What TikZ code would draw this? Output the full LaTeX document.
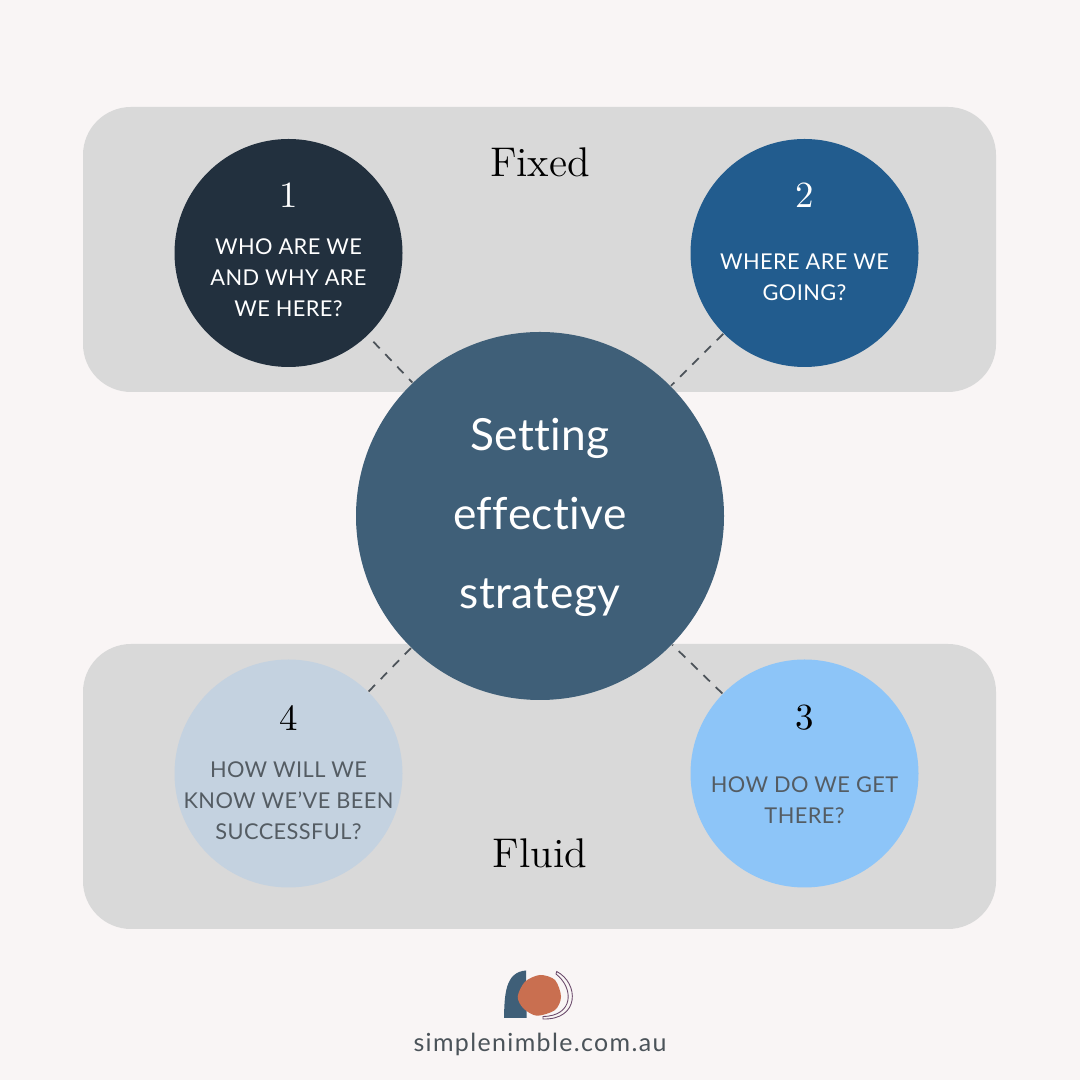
\documentclass[tikz,border=0pt]{standalone}
\usepackage{fontspec}
\newfontfamily\labelfont[LetterSpace=1.8,Ligatures=NoCommon]{Lato}
\newfontfamily\hubfont[LetterSpace=1,Ligatures=NoCommon]{Lato}
\newfontfamily\sitefont[LetterSpace=5.5,Ligatures=NoCommon]{Lato}
\usetikzlibrary{positioning}
\definecolor{paper}{HTML}{F9F5F5}
\definecolor{band}{HTML}{D9D9D9}
\definecolor{midnight}{HTML}{22303E}
\definecolor{deepblue}{HTML}{225C8E}
\definecolor{skyblue}{HTML}{8DC5F8}
\definecolor{mist}{HTML}{C4D2E0}
\definecolor{slate}{HTML}{3F5F78}
\definecolor{ink}{HTML}{545C63}
\definecolor{clay}{HTML}{C96F50}
\definecolor{plum}{HTML}{6B4A6B}
\tikzset{
  panel/.style={fill=band,rounded corners=4.8mm,minimum width=91.3mm,minimum height=28.5mm,inner sep=0pt},
  step circle/.style={circle,fill=#1,minimum size=22.8mm,inner sep=0pt},
  hub/.style={circle,fill=slate,minimum size=36.8mm,inner sep=0pt},
  hub label/.style={text=white,align=center,inner sep=0pt,
    font=\hubfont\fontsize{12.6}{22.5}\selectfont},
  number/.style={font=\fontsize{10.5}{12}\selectfont,inner sep=0pt},
  question/.style={font=\labelfont\fontsize{6.2}{8.85}\selectfont,align=center,inner sep=0pt},
  heading/.style={font=\fontsize{11.8}{14}\selectfont,inner sep=0pt},
  link/.style={draw=ink!90!black,line width=0.5pt,dash pattern=on 2.6pt off 2.3pt},
}
\begin{document}
\begin{tikzpicture}
  \useasboundingbox[fill=paper] (0,0) rectangle (10.8,10.8);
  \node[panel] (fixedpanel) at (5.395,8.305) {};
  \node[panel] (fluidpanel) at (5.395,2.935) {};
  \node[heading] (fixed) at (5.4,9.18) {Fixed};
  \node[heading] (fluid) at (5.4,2.27) {Fluid};
  \node[hub] (hub) at (5.4,5.64) {};
  \node[hub label] (hubtext) at (5.4,5.625) {Setting\\effective\\strategy};
  \foreach \n/\x/\y/\c/\k/\t/\ty in {
    1/2.885/8.27/midnight/white/{WHO ARE WE\\AND WHY ARE\\WE HERE?}/8.02,
    2/8.045/8.27/deepblue/white/{WHERE ARE WE\\GOING?}/8.03,
    3/8.045/3.065/skyblue/ink/{HOW DO WE GET\\THERE?}/2.8,
    4/2.885/3.065/mist/ink/{HOW WILL WE\\KNOW WE’VE BEEN\\SUCCESSFUL?}/2.79}{
    \node[step circle=\c] (c\n) at (\x,\y) {};
    \node[question,text=\k] (q\n) at (\x,\ty) {\t};
  }
  \node[number,text=white] (n1) at (2.885,8.85) {1};
  \node[number,text=white] (n2) at (8.045,8.85) {2};
  \node[number] (n3) at (8.045,3.62) {3};
  \node[number] (n4) at (2.885,3.62) {4};
  \draw[link,shorten <=2.3pt] (c1) -- (hub);
  \draw[link] (c2) -- (hub);
  \draw[link] (c3) -- (hub);
  \draw[link] (c4) -- (hub);
  % logo
  \fill[slate] (5.04,0.62) .. controls (5.045,0.85) and (5.05,1.08) .. (5.26,1.095) -- (5.267,0.62) -- cycle;
  \fill[clay] plot[smooth cycle] coordinates {(5.177,0.833) (5.25,0.983) (5.40,1.05) (5.55,1.0)
    (5.61,0.833) (5.55,0.70) (5.367,0.643) (5.233,0.717)};
  \draw[plum,line width=0.25pt] (5.567,1.085) .. controls (5.79,0.97) and (5.80,0.60) .. (5.43,0.61)
    -- (5.43,0.635) .. controls (5.74,0.64) and (5.74,0.92) .. (5.56,1.06) -- cycle;
  \node[font=\sitefont\fontsize{7.1}{9}\selectfont,text=ink!90!black,inner sep=0pt] (site) at (5.4,0.36) {simplenimble.com.au};
\end{tikzpicture}
\end{document}
